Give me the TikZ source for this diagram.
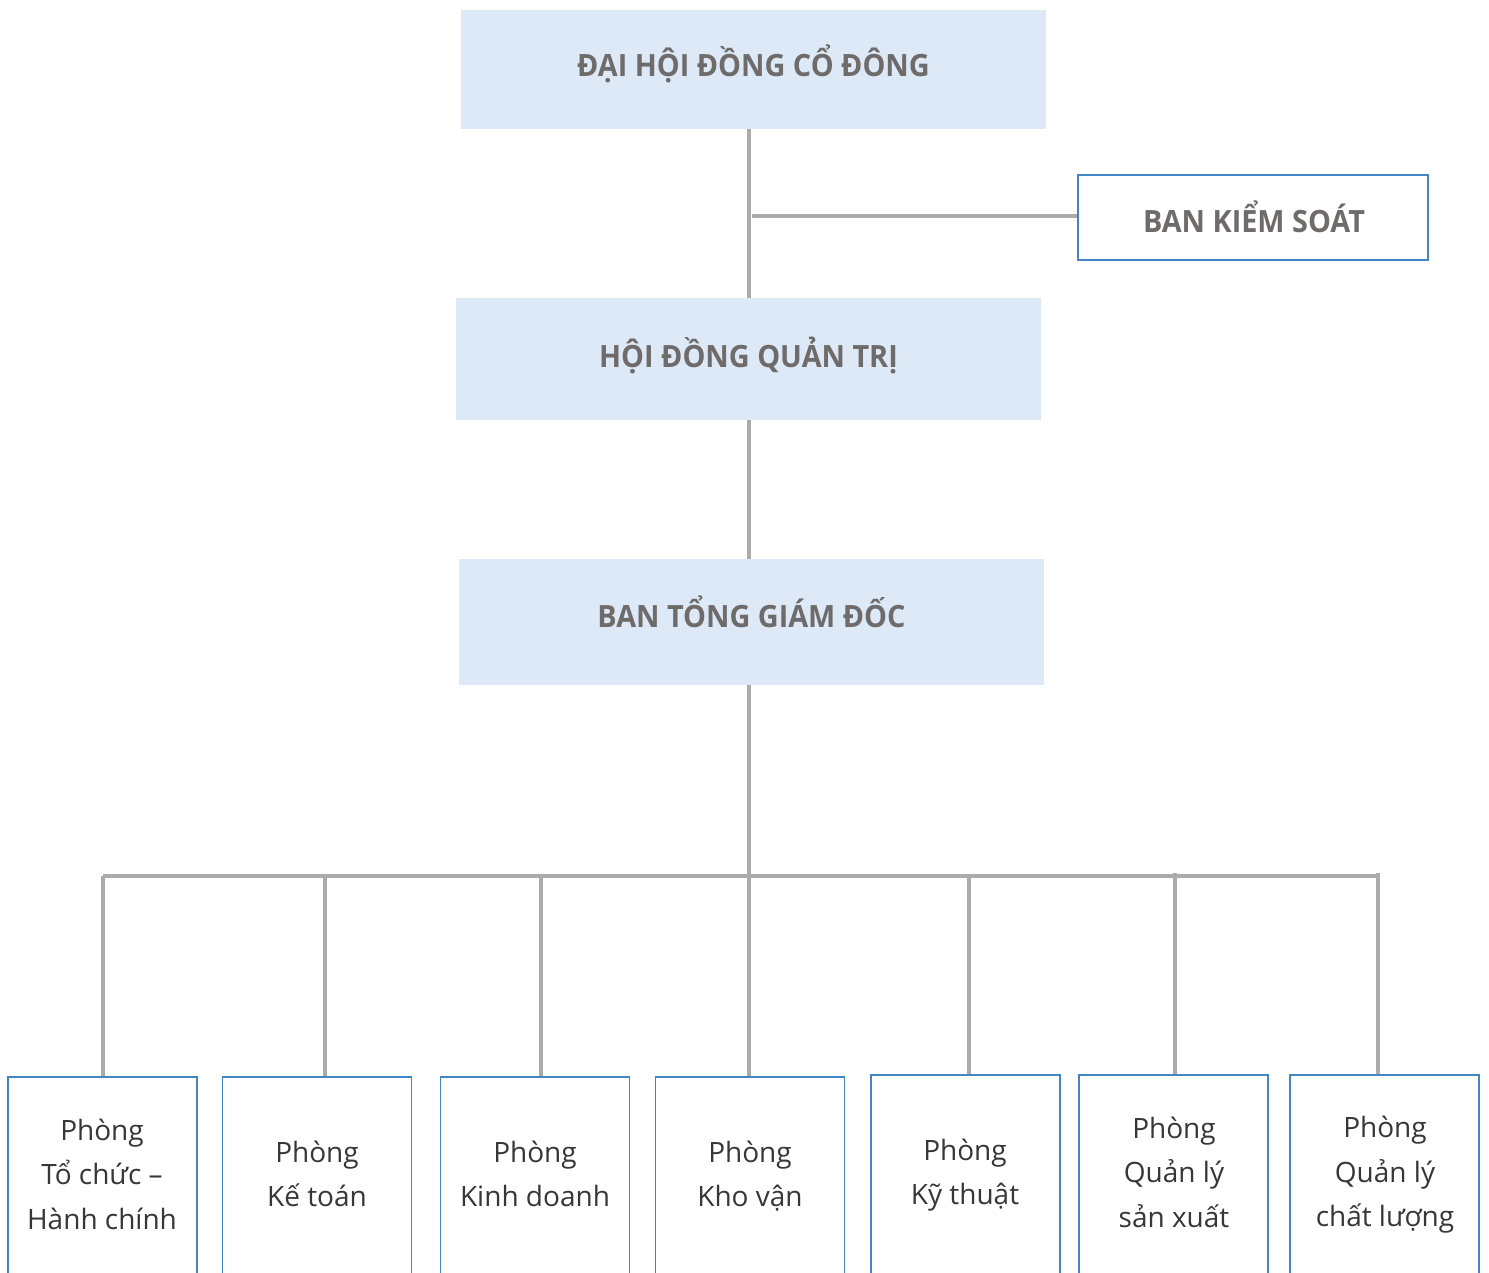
\documentclass[tikz,border=0pt]{standalone}
\usepackage{fontspec}
\setmainfont{Open Sans}[BoldFeatures={FakeStretch=0.94}]
\definecolor{boxfill}{RGB}{221,233,246}
\definecolor{boxblue}{RGB}{66,134,198}
\definecolor{linegrey}{RGB}{172,170,170}
\definecolor{headtext}{RGB}{110,107,106}
\definecolor{depttext}{RGB}{55,55,55}
\begin{document}
\begin{tikzpicture}[x=0.75pt,y=-0.75pt,
  headbox/.style={fill=boxfill,draw=none,minimum width=438.75pt,inner sep=0pt},
  headtxt/.style={inner sep=0pt,font=\fontsize{23}{28}\selectfont\bfseries,text=headtext},
  sidebox/.style={fill=white,draw=boxblue,line width=1.1pt,minimum width=262.5pt,minimum height=63.75pt,inner sep=0pt},
  deptbox/.style={fill=white,draw=boxblue,line width=1.1pt,minimum width=141.75pt,minimum height=225pt,inner sep=0pt},
  depttxt/.style={align=center,inner sep=0pt,font=\fontsize{21}{33.4}\selectfont,text=depttext},
  conn/.style={draw=linegrey,line width=2.3pt}]
\useasboundingbox (0,0) rectangle (1489,1272);

\node[headbox,minimum height=89.25pt] (dh) at (753.5,69.5) {};
\node[sidebox] (bks) at (1253,217.5) {};
\node[headbox,minimum height=91.5pt] (hd) at (748.5,359) {};
\node[headbox,minimum height=94.5pt] (tgd) at (751.5,622) {};

\node[headtxt] (dht) at (753.5,64) {ĐẠI HỘI ĐỒNG CỔ ĐÔNG};
\node[headtxt] (bkst) at (1254,217) {BAN KIỂM SOÁT};
\node[headtxt] (hdt) at (748.5,355) {HỘI ĐỒNG QUẢN TRỊ};
\node[headtxt] (tgdt) at (751.5,612) {BAN TỔNG GIÁM ĐỐC};

\coordinate (spine) at (749,216);
\coordinate (bksfoot) at (752,216);
\coordinate (bus) at (749,876);

\draw[conn] (dh.south -| spine) -- (hd.north -| spine);
\draw[conn] (bksfoot) -- (bksfoot -| bks.west);
\draw[conn] (hd.south -| spine) -- (tgd.north -| spine);
\draw[conn] (tgd.south -| spine) -- (bus);

% department boxes
\node[deptbox] (d1) at (102.5,1227) {};
\node[deptbox] (d2) at (317,1227) {};
\node[deptbox] (d3) at (535,1227) {};
\node[deptbox] (d4) at (750,1227) {};
\node[deptbox] (d5) at (965.5,1225) {};
\node[deptbox] (d6) at (1173.5,1225) {};
\node[deptbox] (d7) at (1384.5,1225) {};

\coordinate (c1) at (103,876);
\coordinate (c2) at (325,876);
\coordinate (c3) at (541,876);
\coordinate (c4) at (749,876);
\coordinate (c5) at (969,876);
\coordinate (c6) at (1175,873);
\coordinate (c7) at (1378,873);

\draw[conn] (c1) -- (1378,876);
\foreach \i in {1,...,7}{
  \draw[conn] (c\i) -- (c\i |- d\i.north);
}

\node[depttxt] (t1) at (102,1174) {Phòng\\Tổ chức –\\Hành chính};
\node[depttxt] (t2) at (317,1174) {Phòng\\Kế toán};
\node[depttxt] (t3) at (535,1174) {Phòng\\Kinh doanh};
\node[depttxt] (t4) at (750,1176) {Phòng\\Kho vận};
\node[depttxt] (t5) at (965,1175) {Phòng\\Kỹ thuật};
\node[depttxt] (t6) at (1174,1172) {Phòng\\Quản lý\\sản xuất};
\node[depttxt] (t7) at (1385,1175) {Phòng\\Quản lý\\chất lượng};
\end{tikzpicture}
\end{document}
